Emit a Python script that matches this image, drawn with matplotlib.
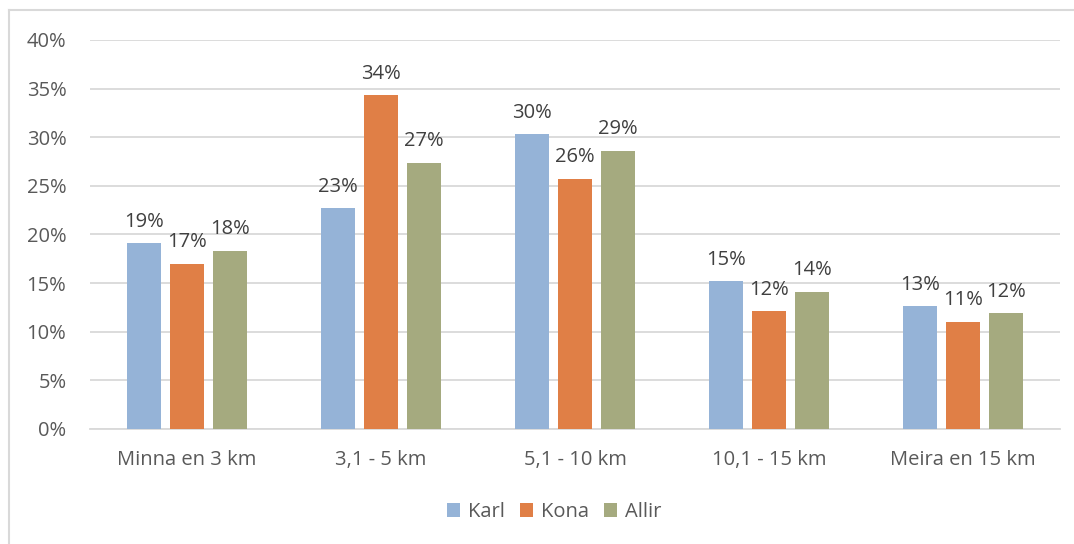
import matplotlib
matplotlib.use("Agg")
import matplotlib.pyplot as plt
from matplotlib.lines import Line2D
import numpy as np

categories = ["Minna en 3 km", "3,1 - 5 km", "5,1 - 10 km", "10,1 - 15 km", "Meira en 15 km"]
series_names = ["Karl", "Kona", "Allir"]
karl = [19.1, 22.7, 30.3, 15.2, 12.6]
kona = [17.0, 34.3, 25.7, 12.1, 11.0]
allir = [18.3, 27.4, 28.6, 14.1, 11.9]
y_ticks = [0, 5, 10, 15, 20, 25, 30, 35, 40]

colors = ["#95B3D7", "#E07F46", "#A5AA7F"]
text_color = "#595959"
grid_color = "#D9D9D9"
fs = 14.5

plt.rcParams["font.family"] = ["Open Sans", "DejaVu Sans"]

W, H = 1074, 544
fig = plt.figure(figsize=(W / 100, H / 100), dpi=100)
ax = fig.add_axes([90 / W, 1 - 429 / H, (1060 - 90) / W, (429 - 40) / H])

x = np.arange(len(categories))
width = 0.176
step = 0.222
for i, (name, vals) in enumerate(zip(series_names, [karl, kona, allir])):
    pos = x + (i - 1) * step
    bars = ax.bar(pos, vals, width, color=colors[i], label=name, zorder=3)
    for b, v in zip(bars, vals):
        ax.text(b.get_x() + b.get_width() / 2, v + 1.2, f"{v:.0f}%",
                ha="center", va="bottom", fontsize=fs, color="#404040")

ax.set_xlim(-0.5, len(categories) - 0.5)
ax.set_ylim(0, 40)
ax.set_yticks(y_ticks)
ax.set_yticklabels([f"{t}%" for t in y_ticks])
ax.set_xticks(x)
ax.set_xticklabels(categories)
ax.tick_params(axis="both", length=0, colors=text_color, labelsize=fs)
ax.tick_params(axis="y", pad=17)
ax.tick_params(axis="x", pad=15)
ax.yaxis.grid(True, color=grid_color, linewidth=1.3, zorder=0)
for s in ["top", "right", "left"]:
    ax.spines[s].set_visible(False)
ax.spines["bottom"].set_color(grid_color)
ax.spines["bottom"].set_linewidth(1.3)

leg = fig.legend(loc="center", bbox_to_anchor=(554 / W, 1 - 512 / H), ncol=3,
                 frameon=False, fontsize=fs, handlelength=0.65, handleheight=0.65,
                 handletextpad=0.4, columnspacing=0.75)
for t in leg.get_texts():
    t.set_color(text_color)

# outer chart frame
fig.add_artist(Line2D([9 / W, 1], [1 - 10 / H, 1 - 10 / H], color="#D9D9D9", linewidth=1.5,
                      transform=fig.transFigure))
fig.add_artist(Line2D([9 / W, 9 / W], [0, 1 - 10 / H], color="#D9D9D9", linewidth=1.5,
                      transform=fig.transFigure))

fig.savefig("out.png", dpi=100)
